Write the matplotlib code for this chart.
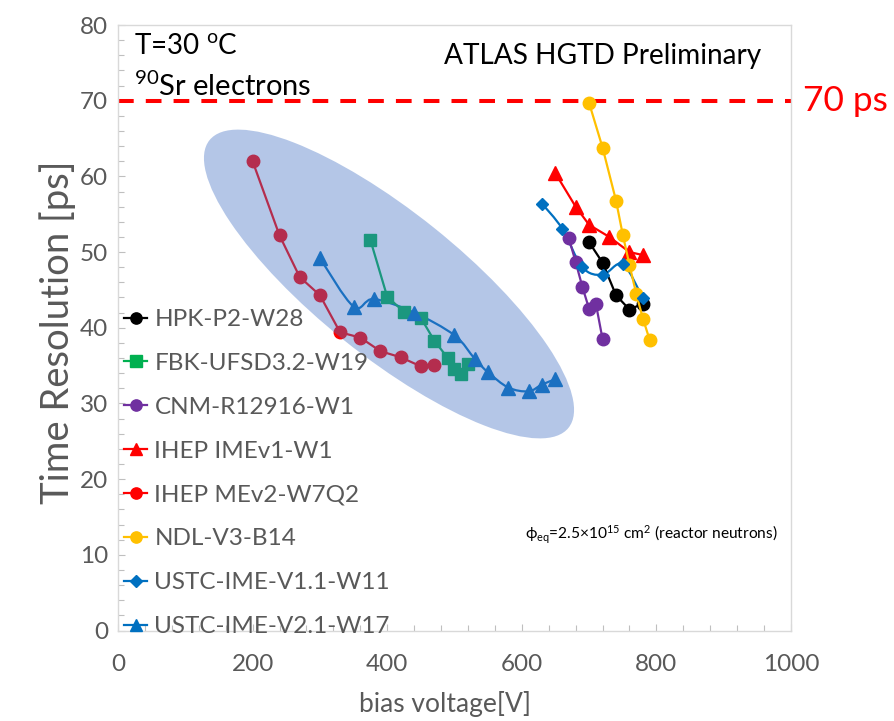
import numpy as np
import matplotlib
matplotlib.use("Agg")
import matplotlib.pyplot as plt
from matplotlib.path import Path
from matplotlib.patches import PathPatch, Ellipse
from matplotlib.lines import Line2D
from matplotlib.transforms import Affine2D

plt.rcParams['font.family'] = ['Lato', 'DejaVu Sans']
plt.rcParams['mathtext.fontset'] = 'custom'
plt.rcParams['mathtext.rm'] = 'Lato'
plt.rcParams['mathtext.it'] = 'Lato:italic'

# ---- measurements: bias voltage [V] vs time resolution [ps] ----
hpk_v = [700, 720, 740, 760, 780]
hpk_t = [51.3, 48.6, 44.3, 42.4, 43.2]

fbk_v = [375, 400, 425, 450, 470, 490, 500, 510, 520]
fbk_t = [51.6, 44.1, 42.1, 41.3, 38.3, 36.0, 34.6, 33.9, 35.2]

cnm_v = [670, 680, 690, 700, 710, 720]
cnm_t = [51.8, 48.7, 45.4, 42.5, 43.2, 38.5]

imev1_v = [650, 680, 700, 730, 760, 780]
imev1_t = [60.4, 56.0, 53.6, 52.0, 50.0, 49.6]

mev2_v = [200, 240, 270, 300, 330, 360, 390, 420, 450, 470]
mev2_t = [62.0, 52.2, 46.7, 44.3, 39.4, 38.7, 36.9, 36.1, 34.9, 35.1]

ndl_v = [700, 720, 740, 750, 760, 770, 780, 790]
ndl_t = [69.7, 63.8, 56.8, 52.3, 48.3, 44.5, 41.2, 38.4]

ustc11_v = [630, 660, 690, 720, 750, 780]
ustc11_t = [56.4, 53.1, 48.0, 47.0, 48.4, 43.9]

ustc21_v = [300, 350, 380, 440, 500, 530, 550, 580, 610, 630, 650]
ustc21_t = [49.2, 42.8, 43.8, 42.0, 39.0, 35.9, 34.1, 32.1, 31.6, 32.5, 33.2]

series = [
    ("HPK-P2-W28", hpk_v, hpk_t, "#000000", "o", 9.0, False),
    ("FBK-UFSD3.2-W19", fbk_v, fbk_t, "#00B050", "s", 9.0, False),
    ("CNM-R12916-W1", cnm_v, cnm_t, "#7030A0", "o", 9.0, False),
    ("IHEP IMEv1-W1", imev1_v, imev1_t, "#FF0000", "^", 9.5, False),
    ("IHEP MEv2-W7Q2", mev2_v, mev2_t, "#FF0000", "o", 9.0, False),
    ("NDL-V3-B14", ndl_v, ndl_t, "#FFC000", "o", 9.0, False),
    ("USTC-IME-V1.1-W11", ustc11_v, ustc11_t, "#0070C0", "D", 6.5, True),
    ("USTC-IME-V2.1-W17", ustc21_v, ustc21_t, "#0070C0", "^", 9.5, True),
]

x_ticks = [0, 200, 400, 600, 800, 1000]
y_ticks = [0, 10, 20, 30, 40, 50, 60, 70, 80]
limit_ps = 70


def smooth_path(x, y):
    """Cubic Bezier path through the points (Catmull-Rom tangents)."""
    pts = np.column_stack([x, y]).astype(float)
    n = len(pts)
    verts = [pts[0]]
    codes = [Path.MOVETO]
    for i in range(n - 1):
        p0 = pts[i - 1] if i > 0 else pts[i]
        p1 = pts[i]
        p2 = pts[i + 1]
        p3 = pts[i + 2] if i + 2 < n else pts[i + 1]
        verts += [p1 + (p2 - p0) / 6.0, p2 - (p3 - p1) / 6.0, p2]
        codes += [Path.CURVE4] * 3
    return Path(verts, codes)


W, H, DPI = 895, 721, 100
fig = plt.figure(figsize=(W / DPI, H / DPI), dpi=DPI)
ax = fig.add_axes([118 / W, 1 - 630.5 / H, (791 - 118) / W, (630.5 - 25) / H])

grey = "#595959"
handles = []
for name, v, t, col, mk, ms, smooth in series:
    if smooth:
        ax.add_patch(PathPatch(smooth_path(v, t), facecolor="none", edgecolor=col,
                               lw=1.6, zorder=3))
        ax.plot(v, t, linestyle="none", marker=mk, ms=ms, color=col,
                mec=col, zorder=4)
    else:
        ax.plot(v, t, linestyle="-", lw=1.6, marker=mk, ms=ms, color=col,
                mec=col, zorder=4)
    handles.append(Line2D([], [], color=col, lw=1.6, marker=mk,
                          ms=ms * 0.9, mec=col, label=name))

# 70 ps requirement
ax.axhline(limit_ps, color="#FF0000", lw=2.9, dashes=(3.9, 3.0), zorder=2)

# highlighted region (drawn in figure pixel coordinates, y downward)
pix = Affine2D().scale(1 / DPI, -1 / DPI).translate(0, H / DPI) + fig.dpi_scale_trans
ell = Ellipse((389, 284), 460, 144, angle=38.7, facecolor="#4472C4",
              alpha=0.4, edgecolor="none", transform=pix, zorder=6)
ax.add_patch(ell)

ax.set_xlim(0, 1000)
ax.set_ylim(0, 80)
ax.set_xticks(x_ticks)
ax.set_yticks(y_ticks)
ax.set_xticks(np.arange(0, 1001, 40), minor=True)
ax.set_yticks(np.arange(0, 81, 2), minor=True)
for s in ax.spines.values():
    s.set_color("#D9D9D9")
    s.set_linewidth(1.0)
ax.tick_params(axis="both", which="both", direction="in", color="#BFBFBF",
               labelcolor=grey, labelsize=17.5)
ax.tick_params(axis="both", which="major", length=5, width=0.8)
ax.tick_params(axis="both", which="minor", length=4, width=0.8)
ax.tick_params(axis="x", which="major", pad=17)
ax.tick_params(axis="y", which="major", pad=7)

ax.set_xlabel("bias voltage[V]", fontsize=19, color=grey)
ax.set_ylabel("Time Resolution [ps]", fontsize=27.5, color=grey)
ax.xaxis.set_label_coords(0.486, -0.1)
ax.yaxis.set_label_coords(-0.062, 0.492)

leg = ax.legend(handles=handles, loc="upper left", frameon=False,
                bbox_to_anchor=(124 / W, 1 - 309 / H),
                bbox_transform=fig.transFigure, fontsize=17.5, labelcolor=grey,
                handlelength=0.95, handletextpad=0.3, labelspacing=0.94,
                borderpad=0, borderaxespad=0)
leg.set_zorder(8)

ax.text(24, 77.2, r"T=30 $^{\mathrm{o}}$C", fontsize=20, color="black",
        va="center", ha="left", zorder=9)
ax.text(24, 71.9, r"$^{\mathrm{90}}$Sr electrons", fontsize=21, color="black",
        va="center", ha="left", zorder=9)
ax.text(485, 75.9, "ATLAS HGTD Preliminary", fontsize=20.2, color="black",
        va="center", ha="left", zorder=9)
ax.text(1018, limit_ps, "70 ps", fontsize=25.5, color="#FF0000",
        va="center", ha="left", clip_on=False, zorder=9)
ax.text(605, 12.6, r"ϕ$_{\mathrm{eq}}$=2.5×10$^{\mathrm{15}}$ cm$^{\mathrm{2}}$ (reactor neutrons)",
        fontsize=11.2, color="black", va="center", ha="left", zorder=9)

fig.savefig("out.png", dpi=DPI)
